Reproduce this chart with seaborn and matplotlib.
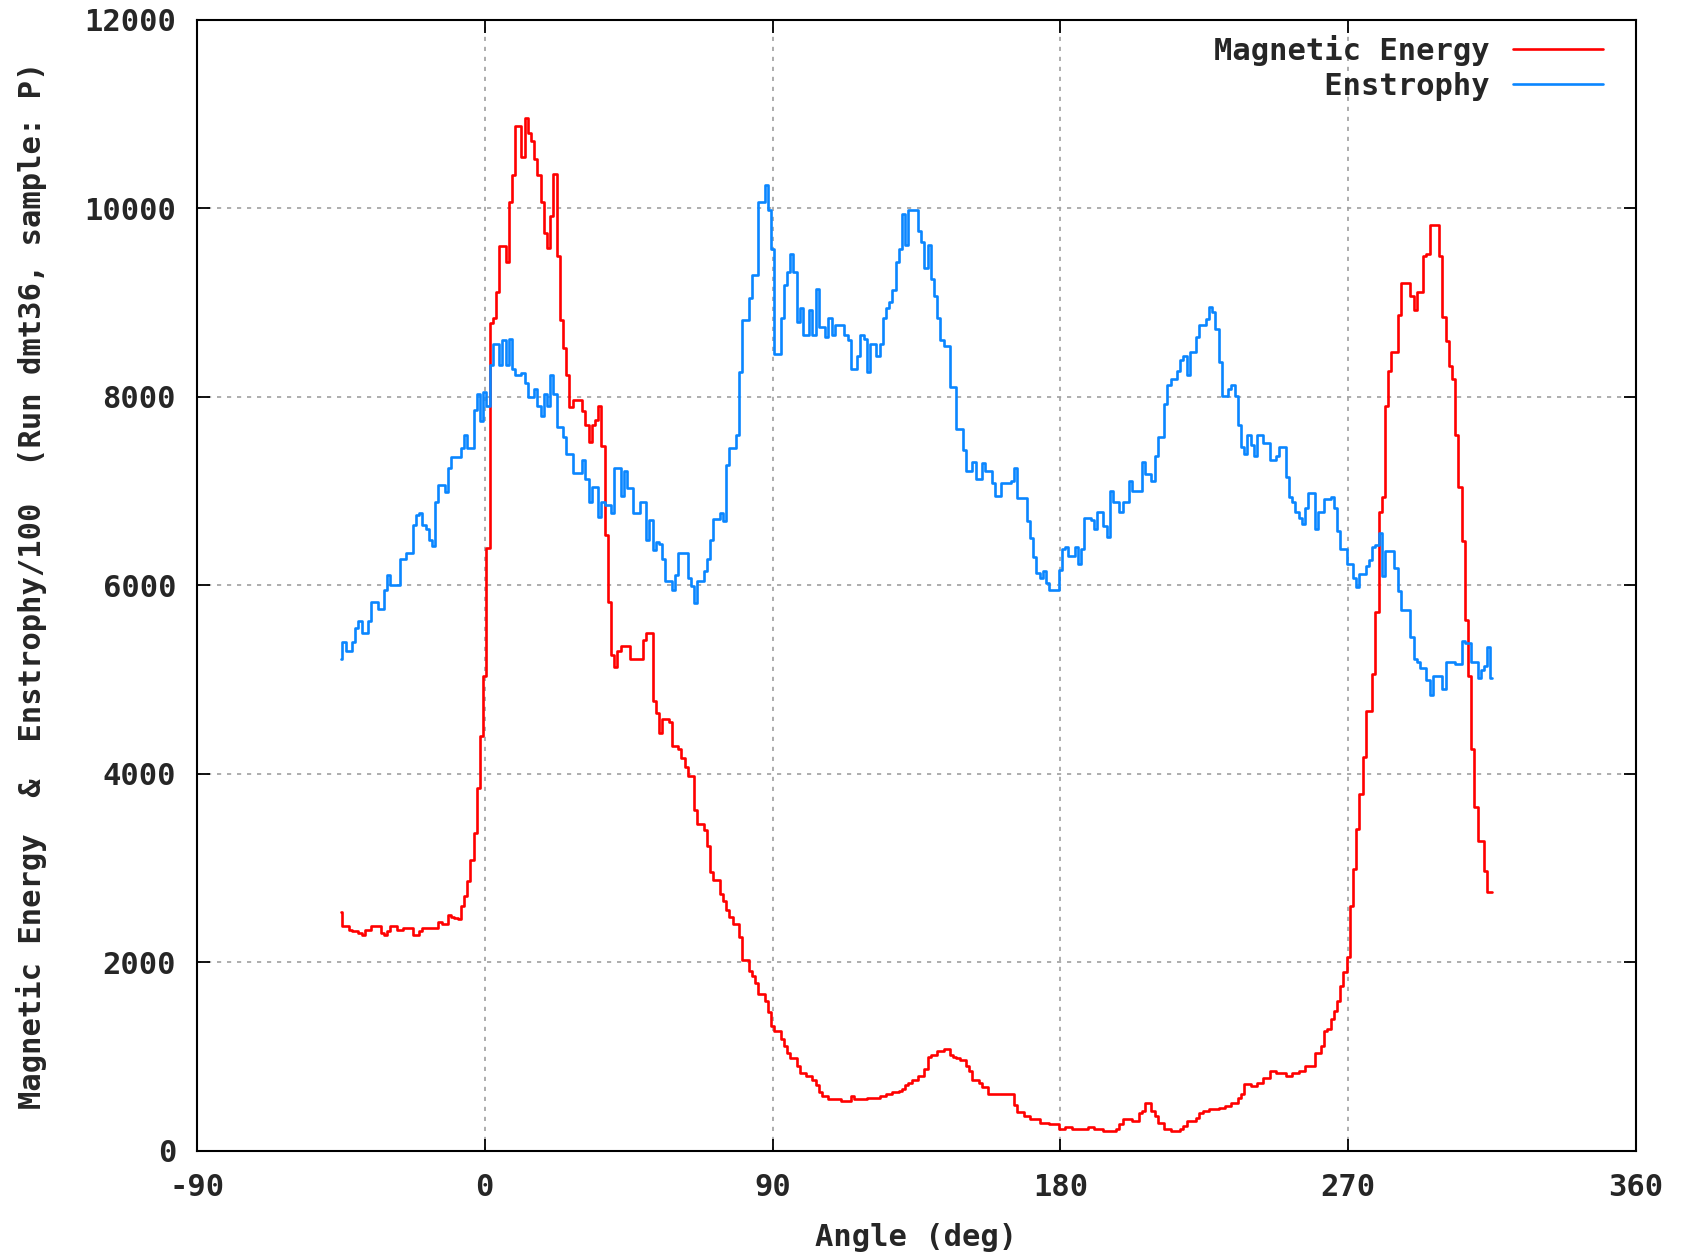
import numpy as np
import pandas as pd
import matplotlib
matplotlib.use("Agg")
import matplotlib.pyplot as plt
import seaborn as sns

# Angle grid (deg), 1-degree bins from -45 to 315
angle_deg = np.arange(-45, 316, 1)

# Magnetic energy per bin (rows of ten, starting at -45 deg)
magnetic_energy = [
    2540, 2390, 2390, 2350, 2330, 2330, 2310, 2290, 2350, 2350,
    2390, 2390, 2390, 2310, 2290, 2330, 2390, 2390, 2350, 2350,
    2370, 2370, 2370, 2290, 2290, 2330, 2370, 2370, 2370, 2370,
    2370, 2425, 2410, 2406, 2500, 2480, 2470, 2463, 2596, 2710,
    2862, 3090, 3374, 3848, 4398, 5044, 6400, 8780, 8840, 9110,
    9600, 9600, 9430, 10065, 10350, 10880, 10880, 10550, 10960, 10800,
    10720, 10530, 10350, 10065, 9740, 9580, 9920, 10370, 9495, 8820,
    8520, 8230, 7890, 7970, 7970, 7970, 7850, 7700, 7520, 7700,
    7760, 7900, 7480, 6540, 5830, 5260, 5140, 5300, 5360, 5360,
    5360, 5220, 5220, 5220, 5220, 5420, 5500, 5500, 4778, 4645,
    4436, 4588, 4588, 4550, 4300, 4300, 4266, 4170, 4075, 3980,
    3980, 3620, 3470, 3470, 3410, 3240, 2956, 2880, 2880, 2730,
    2650, 2558, 2482, 2406, 2406, 2273, 2026, 2026, 1913, 1856,
    1780, 1666, 1666, 1590, 1476, 1325, 1268, 1268, 1192, 1116,
    1040, 983, 983, 907, 831, 831, 793, 793, 756, 700,
    625, 585, 585, 550, 550, 550, 550, 527, 527, 527,
    585, 550, 550, 550, 550, 565, 565, 565, 565, 585,
    585, 600, 600, 625, 625, 640, 660, 700, 720, 756,
    756, 793, 793, 870, 1000, 1020, 1020, 1058, 1058, 1077,
    1077, 1020, 1000, 983, 964, 964, 907, 850, 756, 756,
    718, 680, 680, 600, 600, 600, 600, 600, 600, 600,
    600, 490, 415, 415, 375, 375, 340, 340, 340, 300,
    300, 300, 285, 285, 285, 230, 230, 258, 258, 230,
    230, 230, 230, 230, 258, 258, 230, 230, 230, 212,
    212, 212, 212, 230, 283, 336, 336, 336, 318, 318,
    407, 425, 513, 513, 425, 372, 301, 301, 230, 230,
    212, 212, 212, 230, 265, 318, 318, 318, 354, 407,
    425, 425, 442, 442, 442, 460, 460, 478, 478, 513,
    513, 566, 602, 708, 708, 690, 690, 726, 726, 779,
    779, 850, 850, 832, 832, 832, 797, 797, 832, 832,
    850, 850, 903, 903, 903, 1044, 1044, 1115, 1274, 1292,
    1398, 1487, 1593, 1752, 1894, 2053, 2602, 2991, 3416, 3788,
    4177, 4673, 4673, 5062, 5722, 6781, 6935, 7905, 8280, 8478,
    8478, 8875, 9206, 9206, 9206, 9074, 8920, 9118, 9118, 9493,
    9515, 9824, 9824, 9824, 9493, 8853, 8589, 8324, 8192, 7596,
    7045, 6472, 5634, 5039, 4265, 3646, 3292, 3292, 2973, 2743,
    2743,
]

# Enstrophy / 100 per bin (rows of ten, starting at -45 deg)
enstrophy_scaled = [
    5218, 5400, 5300, 5300, 5400, 5550, 5625, 5500, 5500, 5625,
    5830, 5830, 5750, 5750, 5950, 6115, 6000, 6000, 6000, 6280,
    6280, 6340, 6340, 6640, 6745, 6765, 6640, 6600, 6480, 6420,
    6890, 7070, 7070, 6990, 7250, 7360, 7360, 7360, 7460, 7600,
    7460, 7460, 7865, 8030, 7740, 8050, 7900, 8335, 8560, 8560,
    8335, 8600, 8335, 8620, 8300, 8230, 8230, 8250, 8150, 8000,
    8000, 8080, 7900, 7800, 8030, 7900, 8230, 8030, 7680, 7680,
    7580, 7400, 7400, 7190, 7190, 7190, 7330, 7130, 6890, 7050,
    7050, 6725, 6890, 6850, 6850, 6765, 7250, 7250, 6950, 7210,
    7030, 7030, 6765, 6765, 6890, 6890, 6480, 6700, 6380, 6460,
    6440, 6280, 6050, 6050, 5950, 6115, 6340, 6340, 6340, 6075,
    5990, 5810, 6050, 6050, 6155, 6280, 6480, 6705, 6705, 6765,
    6680, 7275, 7460, 7460, 7600, 8270, 8820, 8820, 9050, 9290,
    9290, 10065, 10065, 10250, 9985, 9575, 8455, 8455, 8840, 9190,
    9330, 9515, 9330, 8800, 8945, 8660, 8660, 8925, 8660, 9150,
    8740, 8740, 8640, 8840, 8660, 8760, 8760, 8760, 8660, 8600,
    8300, 8300, 8435, 8660, 8620, 8270, 8560, 8560, 8435, 8560,
    8840, 8945, 9005, 9130, 9435, 9575, 9945, 9617, 9985, 9985,
    9985, 9760, 9640, 9370, 9617, 9250, 9070, 8840, 8600, 8540,
    8540, 8110, 8110, 7660, 7660, 7440, 7215, 7215, 7315, 7130,
    7130, 7295, 7215, 7215, 7090, 6950, 6950, 7090, 7090, 7090,
    7110, 7250, 6930, 6930, 6930, 6685, 6500, 6300, 6135, 6075,
    6155, 6030, 5950, 5950, 5950, 6163, 6384, 6406, 6318, 6318,
    6406, 6230, 6384, 6715, 6715, 6693, 6604, 6781, 6781, 6627,
    6516, 7001, 6891, 6891, 6781, 6891, 6891, 7111, 7001, 7001,
    7001, 7310, 7178, 7178, 7111, 7376, 7575, 7575, 7927, 8126,
    8192, 8192, 8280, 8390, 8434, 8236, 8478, 8478, 8633, 8765,
    8765, 8831, 8950, 8897, 8721, 8368, 8015, 8015, 8082, 8126,
    8015, 7707, 7464, 7398, 7597, 7486, 7376, 7597, 7597, 7508,
    7508, 7332, 7332, 7376, 7464, 7464, 7156, 6935, 6891, 6781,
    6715, 6648, 6825, 6979, 6979, 6604, 6781, 6781, 6913, 6913,
    6935, 6825, 6582, 6384, 6384, 6230, 6230, 6075, 5987, 6119,
    6119, 6207, 6274, 6406, 6428, 6560, 6097, 6362, 6362, 6362,
    6185, 5943, 5744, 5744, 5744, 5458, 5215, 5193, 5127, 5127,
    4995, 4840, 5039, 5039, 5039, 4907, 5193, 5193, 5193, 5171,
    5171, 5414, 5392, 5392, 5193, 5193, 5017, 5105, 5149, 5348,
    5017,
]

series_names = ["Magnetic Energy", "Enstrophy"]
series_colors = ["#ff0000", "#0a86ff"]
x_ticks = [-90, 0, 90, 180, 270, 360]
y_ticks = [0, 2000, 4000, 6000, 8000, 10000, 12000]

sns.set_style("ticks")
plt.rcParams["font.family"] = ["DejaVu Sans Mono", "DejaVu Sans"]
plt.rcParams["font.weight"] = "bold"
plt.rcParams["axes.unicode_minus"] = False

FS = 22
fig = plt.figure(figsize=(16.86, 12.56), dpi=100)
ax = fig.add_axes([0.1168, 0.0836, 0.8535, 0.9005])

# pad the shorter name so the monospaced legend entries line up on the right
width = max(len(n) for n in series_names)
legend_labels = [n.rjust(width) for n in series_names]

for values, label, color in zip([magnetic_energy, enstrophy_scaled],
                                legend_labels, series_colors):
    frame = pd.DataFrame({"angle": angle_deg, "value": values})
    sns.lineplot(data=frame, x="angle", y="value", ax=ax, color=color,
                 lw=1.9, drawstyle="steps-mid", label=label,
                 errorbar=None)

ax.set_xlim(-90, 360)
ax.set_ylim(0, 12000)
ax.set_xticks(x_ticks)
ax.set_yticks(y_ticks)
ax.set_xticklabels([str(t) for t in x_ticks], fontsize=FS, fontweight="bold")
ax.set_yticklabels([str(t) for t in y_ticks], fontsize=FS, fontweight="bold")
ax.tick_params(axis="both", direction="in", length=9, width=1.3,
               top=True, right=True, color="black")
ax.tick_params(axis="x", pad=16)
ax.tick_params(axis="y", pad=15)

ax.grid(True, color="#a0a0a0", linestyle=(0, (2.5, 3.5)), linewidth=1.2)
for side in ax.spines.values():
    side.set_visible(True)
    side.set_color("black")
    side.set_linewidth(1.5)

ax.set_xlabel("Angle (deg)", fontsize=FS, fontweight="bold")
ax.xaxis.set_label_coords(0.5, (1151 - 1237) / 1131)
ax.xaxis.label.set_va("center")
ax.set_ylabel("Magnetic Energy  &  Enstrophy/100  (Run dmt36, sample: P)",
              fontsize=FS, fontweight="bold")
ax.yaxis.set_label_coords(-165 / 1439, 0.5)
ax.yaxis.label.set_va("center")

leg = ax.legend(loc="upper right", bbox_to_anchor=(0.977, 0.987),
                frameon=False, markerfirst=False, fontsize=FS,
                handlelength=2.95, handletextpad=0.75, labelspacing=0.2,
                borderaxespad=0, borderpad=0)
for line in leg.get_lines():
    line.set_linewidth(1.9)

fig.savefig("out.png", dpi=100, facecolor="white")
